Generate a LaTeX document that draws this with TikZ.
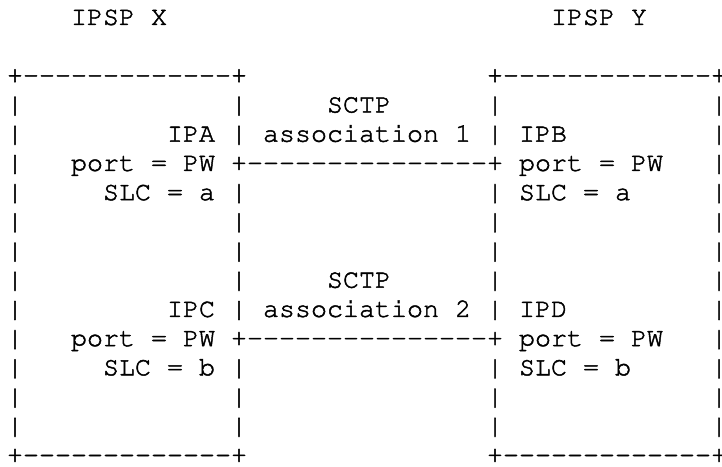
\documentclass[tikz,border=0pt]{standalone}
\usepackage[T1]{fontenc}
\begin{document}
% Fixed-pitch character grid: 16pt per column, 29.2pt per line
% (text drawn filled and lightly stroked, for a slightly heavier typewriter face)
\newcommand\heavytext{\special{pdf:literal direct 2 Tr 0.45 w}}
\tikzset{
  ascii/.style={anchor=base west, inner sep=0pt, outer sep=0pt,
    font=\heavytext\fontfamily{pcr}\fontsize{26.67}{29.2}\selectfont, text=black},
}
% place text at a grid cell (column, line)
\newcommand\cellat[4]{\node[ascii] (#1) at ({7+16*#2},{24.9+29.2*#3}) {#4};}
% a run of hyphens, kept apart so no ligature forms
\newcommand\dashrun[1]{\foreach\k in {1,...,#1}{-}}
\begin{tikzpicture}[x=1pt,y=-1pt]
\useasboundingbox (0,0) rectangle (722,466);
% headings
\cellat{hx}{4}{0}{IPSP X}
\cellat{hy}{34}{0}{IPSP Y}
% box edges, top and bottom
\cellat{topx}{0}{2}{+\dashrun{13}+}
\cellat{topy}{30}{2}{+\dashrun{13}+}
\cellat{botx}{0}{15}{+\dashrun{13}+}
\cellat{boty}{30}{15}{+\dashrun{13}+}
% outer side walls
\foreach \r in {3,...,14}{
  \cellat{wxl\r}{0}{\r}{|}
  \cellat{wyr\r}{44}{\r}{|}
}
% inner side walls (crossed by the associations on lines 5 and 11)
\foreach \r in {3,4,6,7,8,9,10,12,13,14}{
  \cellat{wxr\r}{14}{\r}{|}
  \cellat{wyl\r}{30}{\r}{|}
}
% association 1
\cellat{sctpa}{20}{3}{SCTP}
\cellat{ipa}{10}{4}{IPA}
\cellat{assoca}{16}{4}{association 1}
\cellat{ipb}{32}{4}{IPB}
\cellat{porta}{4}{5}{port = PW}
\cellat{linka}{14}{5}{+\dashrun{15}+}
\cellat{portb}{32}{5}{port = PW}
\cellat{slca}{6}{6}{SLC = a}
\cellat{slcb}{32}{6}{SLC = a}
% association 2
\cellat{sctpb}{20}{9}{SCTP}
\cellat{ipc}{10}{10}{IPC}
\cellat{assocb}{16}{10}{association 2}
\cellat{ipd}{32}{10}{IPD}
\cellat{portc}{4}{11}{port = PW}
\cellat{linkb}{14}{11}{+\dashrun{15}+}
\cellat{portd}{32}{11}{port = PW}
\cellat{slcc}{6}{12}{SLC = b}
\cellat{slcd}{32}{12}{SLC = b}
\end{tikzpicture}
\end{document}
